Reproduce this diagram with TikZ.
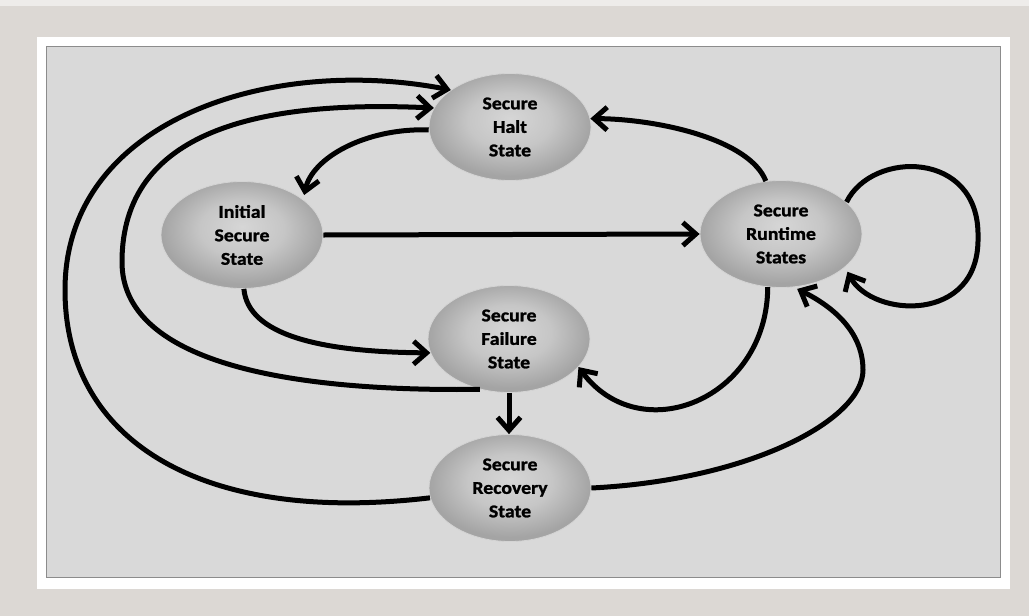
\documentclass[tikz,border=0pt]{standalone}
\usepackage{fontspec}
\setmainfont{Carlito}[BoldFont={Carlito Bold}, BoldFeatures={FakeBold=1.3}, FakeStretch=1.1]
\usetikzlibrary{arrows.meta,shapes.geometric}
\definecolor{outerbg}{HTML}{DCD8D4}
\definecolor{toprow}{HTML}{EEECEA}
\definecolor{panelfill}{HTML}{D9D9D9}
\definecolor{panelline}{HTML}{8C8C8C}
\definecolor{ellc}{HTML}{D6D6D6}
\definecolor{ellm}{HTML}{C6C6C6}
\definecolor{elle}{HTML}{A4A4A4}
\definecolor{rimc}{HTML}{D4D4D4}
\pgfdeclareradialshading{stateball}{\pgfpoint{0bp}{4bp}}{color(0bp)=(ellc); color(13bp)=(ellm); color(25bp)=(elle); color(50bp)=(elle)}
\begin{document}
\begin{tikzpicture}[x=1pt,y=-1pt,
  state/.style={ellipse, minimum width=162pt, minimum height=107pt, inner sep=0pt,
    shading=stateball, draw=rimc, line width=0.8pt, align=center,
    font=\fontsize{18}{23.5}\selectfont\bfseries, text=black},
  conn/.style={line width=5pt, draw=black, -{Straight Barb[length=13pt,width=23pt]}}]
% background and frames
\fill[outerbg] (0,0) rectangle (1029,616);
\fill[toprow] (0,0) rectangle (1029,6);
\fill[white] (37,37) rectangle (1010,589);
\filldraw[fill=panelfill, draw=panelline, line width=1pt] (46,46) rectangle (1000,577);
\useasboundingbox (0,0) rectangle (1029,616);
% states
\node[state] (halt) at (510,127) {Secure\\Halt\\State};
\node[state] (init) at (242,235) {Initial\\Secure\\State};
\node[state] (run)  at (781,234) {Secure\\Runtime\\States};
\node[state] (fail) at (509,339) {Secure\\Failure\\State};
\node[state] (rec)  at (510,488) {Secure\\Recovery\\State};
% connectors
\draw[conn] (halt.182) .. controls (365,128) and (312,158) .. ([shift={(3,-3)}]init.32);
\draw[conn] (init.east) -- (run.west);
\draw[conn] (init.-88) .. controls (248,335) and (320,352) .. (fail.190);
\draw[conn] (run.106) .. controls (750,140) and (660,119) .. (halt.6);
\draw[conn] (run.26) .. controls (872,150) and (980,150) .. (978,237)
  .. controls (980,324) and (872,318) .. ([shift={(3,4)}]run.-28);
\draw[conn] (run.-104) .. controls (767,400) and (640,450) .. (fail.-22);
\draw[conn] (rec.east) .. controls (750,480) and (863,420) .. (863,370)
  .. controls (863,330) and (830,305) .. ([shift={(1,2)}]run.-74);
\draw[conn] (fail.south) -- (fail.south |- rec.north);
\draw[conn] (fail.240) .. controls (280,392) and (122,360) .. (122,262)
  .. controls (122,130) and (260,100) .. (halt.166);
\draw[conn] (rec.187) .. controls (200,525) and (65,440) .. (65,290)
  .. controls (65,120) and (270,55) .. (halt.148);
\end{tikzpicture}
\end{document}
